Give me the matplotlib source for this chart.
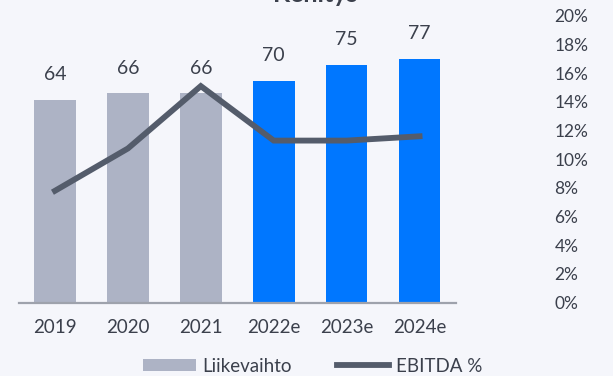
import matplotlib

matplotlib.use("Agg")
import matplotlib.pyplot as plt
import numpy as np
from matplotlib.lines import Line2D
from matplotlib.patches import Patch

# Liikevaihto (MEUR) ja EBITDA-marginaali (%)
years = ["2019", "2020", "2021", "2022e", "2023e", "2024e"]
revenue = [64, 66, 66, 70, 75, 77]
ebitda_pct = [7.8, 10.75, 15.1, 11.3, 11.3, 11.6]
is_estimate = [False, False, False, True, True, True]

BG_COLOR = "#f5f6fb"
ACTUAL_COLOR = "#adb3c5"
ESTIMATE_COLOR = "#0077ff"
LINE_COLOR = "#545c6b"
TEXT_COLOR = "#3b404c"

plt.rcParams["font.family"] = ["Lato", "DejaVu Sans"]

fig = plt.figure(figsize=(6.13, 3.76), dpi=100, facecolor=BG_COLOR)
ax = fig.add_axes([0.0302, 0.195, 0.7137, 0.763])
ax.set_facecolor(BG_COLOR)

x = np.arange(len(years))
colors = [ESTIMATE_COLOR if est else ACTUAL_COLOR for est in is_estimate]
bars = ax.bar(x, revenue, width=0.57, color=colors, zorder=2)
for bar, val in zip(bars, revenue):
    ax.annotate(
        f"{val}",
        (bar.get_x() + bar.get_width() / 2, bar.get_height()),
        xytext=(0, 18),
        textcoords="offset points",
        ha="center",
        va="center",
        fontsize=14,
        color=TEXT_COLOR,
    )

ax.set_xlim(-0.5, 5.5)
ax.set_ylim(0, 90.5)
ax.set_yticks([])
ax.set_xticks(x)
ax.set_xticklabels(years)
ax.tick_params(axis="x", length=0, pad=12, labelsize=13.5, labelcolor=TEXT_COLOR)
for side in ("top", "left", "right"):
    ax.spines[side].set_visible(False)
ax.spines["bottom"].set_color("#9ea2ac")
ax.spines["bottom"].set_linewidth(1.6)

# EBITDA-% oikealla akselilla
ax2 = ax.twinx()
ax2.plot(x, ebitda_pct, color=LINE_COLOR, linewidth=4.2, solid_joinstyle="miter", zorder=3)
ax2.set_ylim(0, 20)
ax2.set_yticks(np.arange(0, 21, 2))
ax2.set_yticklabels([f"{v}%" for v in range(0, 21, 2)])
ax2.tick_params(axis="y", length=0, pad=71, labelsize=12.5, labelcolor=TEXT_COLOR)
for side in ("top", "left", "right", "bottom"):
    ax2.spines[side].set_visible(False)

# otsikko jää osittain kuvan yläreunan yli
fig.text(0.514, 1 - 2 / 376, "Kehitys", ha="center", va="baseline",
         fontsize=18, fontweight="bold", color=TEXT_COLOR)

handles = [
    Patch(facecolor=ACTUAL_COLOR, edgecolor="none", label="Liikevaihto"),
    Line2D([0], [0], color=LINE_COLOR, linewidth=4.2, label="EBITDA %"),
]
fig.legend(
    handles=handles,
    loc="center",
    bbox_to_anchor=(0.51, 1 - 366 / 376),
    ncol=2,
    frameon=False,
    fontsize=13.5,
    handlelength=2.8,
    handleheight=0.65,
    handletextpad=0.35,
    columnspacing=2.4,
    labelcolor=TEXT_COLOR,
)

fig.savefig("out.png", dpi=100, facecolor=BG_COLOR)
